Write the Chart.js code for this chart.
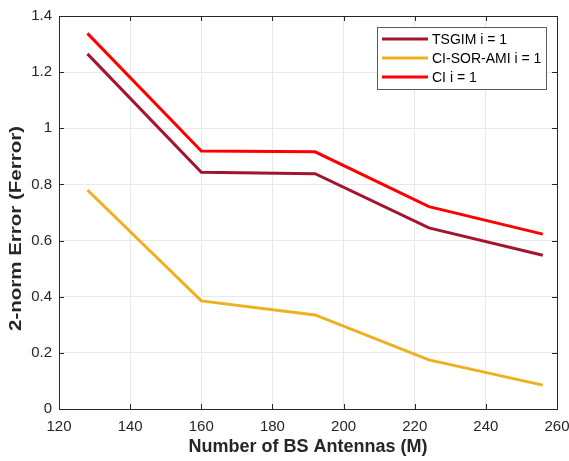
<!DOCTYPE html>
<html lang="en">
<head>
    <meta charset="UTF-8">
    <title>2-norm Error vs BS Antennas</title>
    <script src="https://cdn.jsdelivr.net/npm/chart.js"></script>
    <style>
        html, body { margin: 0; padding: 0; background: #fff; }
        #wrap { width: 569px; height: 461px; }
    </style>
</head>
<body>
    <div id="wrap"><canvas id="chart" width="569" height="461"></canvas></div>

    <script>
        // data
        const antennas = [128, 160, 192, 224, 256];
        const tsgim = [1.265, 0.843, 0.838, 0.645, 0.548];
        const ciSorAmi = [0.780, 0.385, 0.335, 0.175, 0.085];
        const ci = [1.338, 0.919, 0.916, 0.721, 0.623];
        const seriesNames = ['TSGIM i = 1', 'CI-SOR-AMI i = 1', 'CI i = 1'];
        const seriesColors = ['#A2142F', '#EDB120', '#FF0000'];
        const yTitle = '2-norm Error (Ferror)';

        const FONT = '"Liberation Sans", Arial, sans-serif';
        const TXT = '#262626';

        function toPoints(ys) {
            return antennas.map((x, i) => ({ x: x, y: ys[i] }));
        }

        // box around the axes + inward ticks on every side, like matlab
        const boxPlugin = {
            id: 'box',
            afterDraw(chart) {
                const ctx = chart.ctx;
                const a = chart.chartArea;
                const xs = chart.scales.x, ys = chart.scales.y;
                ctx.save();
                ctx.strokeStyle = TXT;
                ctx.lineWidth = 1;
                ctx.beginPath();
                xs.ticks.forEach(t => {
                    const px = Math.round(xs.getPixelForValue(t.value)) + 0.5;
                    ctx.moveTo(px, a.bottom); ctx.lineTo(px, a.bottom - 5);
                    ctx.moveTo(px, a.top); ctx.lineTo(px, a.top + 5);
                });
                ys.ticks.forEach(t => {
                    const py = Math.round(ys.getPixelForValue(t.value)) + 0.5;
                    ctx.moveTo(a.left, py); ctx.lineTo(a.left + 5, py);
                    ctx.moveTo(a.right, py); ctx.lineTo(a.right - 5, py);
                });
                ctx.stroke();
                ctx.strokeRect(Math.round(a.left) + 0.5, Math.round(a.top) + 0.5,
                    Math.round(a.right - a.left), Math.round(a.bottom - a.top));
                ctx.restore();
            }
        };

        // y label: matlab renders the rotated text wider than arial, so stretch it a bit
        const yTitlePlugin = {
            id: 'yTitle',
            afterDraw(chart) {
                const ctx = chart.ctx;
                const a = chart.chartArea;
                ctx.save();
                ctx.font = 'bold 17px ' + FONT;
                ctx.fillStyle = TXT;
                ctx.textAlign = 'center';
                ctx.textBaseline = 'middle';
                const w = ctx.measureText(yTitle).width;
                ctx.translate(16.5, (a.top + a.bottom) / 2 + 16);
                ctx.rotate(-Math.PI / 2);
                ctx.scale(205 / w, 1);
                ctx.fillText(yTitle, 0, 0);
                ctx.restore();
            }
        };

        // legend box drawn inside the plot, top right
        const legendPlugin = {
            id: 'boxLegend',
            afterDraw(chart) {
                const ctx = chart.ctx;
                const a = chart.chartArea;
                const w = 169, h = 62;
                const x0 = Math.round(a.right) - 11 - w, y0 = Math.round(a.top) + 11;
                ctx.save();
                ctx.fillStyle = '#fff';
                ctx.fillRect(x0, y0, w, h);
                ctx.strokeStyle = '#5a5a5a';
                ctx.lineWidth = 1;
                ctx.strokeRect(x0 + 0.5, y0 + 0.5, w, h);
                ctx.font = '14px ' + FONT;
                ctx.textBaseline = 'middle';
                chart.data.datasets.forEach((ds, i) => {
                    const cy = y0 + 12 + i * 19;
                    ctx.strokeStyle = ds.borderColor;
                    ctx.lineWidth = 3;
                    ctx.beginPath();
                    ctx.moveTo(x0 + 5, cy); ctx.lineTo(x0 + 51, cy);
                    ctx.stroke();
                    ctx.fillStyle = '#000';
                    ctx.fillText(ds.label, x0 + 55, cy + 1);
                });
                ctx.restore();
            }
        };

        const datasets = [tsgim, ciSorAmi, ci].map((vals, i) => ({
            label: seriesNames[i],
            data: toPoints(vals),
            borderColor: seriesColors[i],
            backgroundColor: seriesColors[i],
            borderWidth: 3,
            pointRadius: 0,
            fill: false,
            tension: 0
        }));

        new Chart(document.getElementById('chart'), {
            type: 'line',
            data: { datasets: datasets },
            options: {
                responsive: false,
                animation: false,
                layout: { padding: { top: 16, right: 12, left: 0, bottom: 0 } },
                plugins: {
                    legend: { display: false },
                    tooltip: { enabled: false }
                },
                scales: {
                    x: {
                        type: 'linear',
                        min: 120, max: 260,
                        ticks: { stepSize: 20, color: TXT, font: { family: FONT, size: 15 }, padding: 9, maxRotation: 0 },
                        grid: { color: '#e8e8e8', drawTicks: false },
                        border: { display: false },
                        title: { display: true, text: 'Number of BS Antennas (M)', color: TXT,
                            font: { family: FONT, size: 18, weight: 'bold' }, padding: { top: 3, bottom: 3 } },
                        afterFit(s) { s.height = 52; s.paddingRight = 0; s.paddingLeft = 0; }
                    },
                    y: {
                        min: 0, max: 1.4,
                        ticks: { stepSize: 0.2, color: TXT, font: { family: FONT, size: 15 }, padding: 7,
                            callback: v => String(+v.toFixed(1)) },
                        grid: { color: '#e8e8e8', drawTicks: false },
                        border: { display: false },
                        title: { display: false },
                        afterFit(s) { s.width = 59; s.paddingTop = 0; s.paddingBottom = 0; }
                    }
                }
            },
            plugins: [boxPlugin, yTitlePlugin, legendPlugin]
        });
    </script>
</body>
</html>
